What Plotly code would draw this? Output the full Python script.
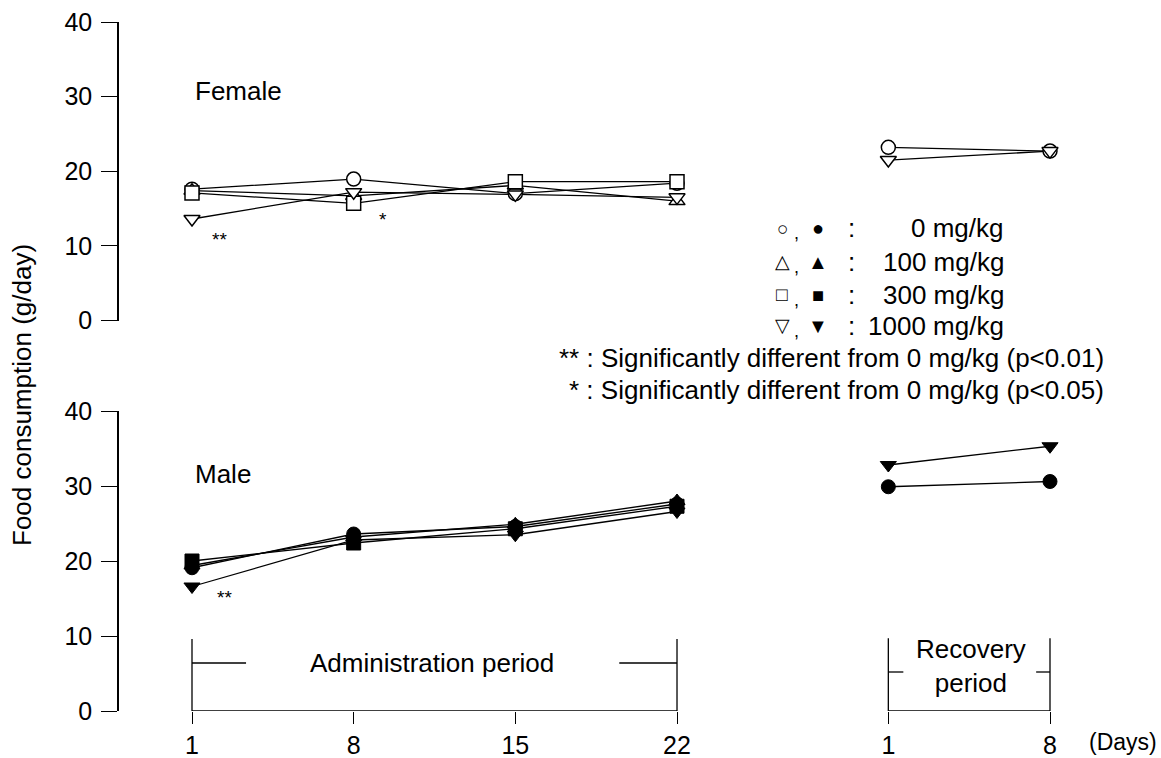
import plotly.graph_objects as go

# ---------------- data ----------------
days_admin = [1, 8, 15, 22]
days_recovery = [1, 8]
dose_labels = ["0 mg/kg", "100 mg/kg", "300 mg/kg", "1000 mg/kg"]

female_0 = [17.6, 18.95, 17.0, 18.4]
female_100 = [17.4, 16.7, 18.1, 16.0]
female_300 = [17.1, 15.7, 18.6, 18.6]
female_1000 = [13.6, 17.2, 16.9, 16.5]
female_rec_0 = [23.2, 22.7]
female_rec_1000 = [21.5, 22.7]

male_0 = [19.1, 23.6, 24.6, 27.6]
male_100 = [19.4, 23.2, 24.9, 28.0]
male_300 = [20.0, 22.4, 24.3, 27.3]
male_1000 = [16.6, 22.8, 23.5, 26.6]
male_rec_0 = [29.9, 30.6]
male_rec_1000 = [32.8, 35.3]

y_ticks = [0, 10, 20, 30, 40]
x_tick_text = ["1", "8", "15", "22", "1", "8"]

# ---------------- layout helpers ----------------
REC_OFFSET = 30.15          # recovery days are placed after a gap on the shared day axis
rec_x = [d + REC_OFFSET for d in days_recovery]

FONT = "Liberation Sans, Arial, Helvetica, sans-serif"
FS = 26
FS_TICK = 25
W, H = 1161, 758
ML, MR, MT, MB = 119, 61, 22, 47
X0, X1 = -2.161, 40.315

open_sym = ["circle", "triangle-up", "square", "triangle-down"]

fig = go.Figure()

female_series = [female_0, female_100, female_300, female_1000]
male_series = [male_0, male_100, male_300, male_1000]

line_style = dict(color="black", width=1.3)

# lines first
for ys in female_series:
    fig.add_trace(go.Scatter(x=days_admin, y=ys, mode="lines", line=line_style,
                             xaxis="x", yaxis="y2", hoverinfo="skip"))
for ys in [female_rec_0, female_rec_1000]:
    fig.add_trace(go.Scatter(x=rec_x, y=ys, mode="lines", line=line_style,
                             xaxis="x", yaxis="y2", hoverinfo="skip"))
for ys in male_series:
    fig.add_trace(go.Scatter(x=days_admin, y=ys, mode="lines", line=line_style,
                             xaxis="x", yaxis="y", hoverinfo="skip"))
for ys in [male_rec_0, male_rec_1000]:
    fig.add_trace(go.Scatter(x=rec_x, y=ys, mode="lines", line=line_style,
                             xaxis="x", yaxis="y", hoverinfo="skip"))

# markers on top
for i, ys in enumerate(female_series):
    fig.add_trace(go.Scatter(x=days_admin, y=ys, mode="markers", name=dose_labels[i],
                             marker=dict(symbol=open_sym[i], size=14, color="white",
                                         line=dict(color="black", width=1.5)),
                             xaxis="x", yaxis="y2"))
for i, ys in zip([0, 3], [female_rec_0, female_rec_1000]):
    fig.add_trace(go.Scatter(x=rec_x, y=ys, mode="markers", name=dose_labels[i],
                             marker=dict(symbol=open_sym[i], size=14, color="white",
                                         line=dict(color="black", width=1.5)),
                             xaxis="x", yaxis="y2"))
for i, ys in enumerate(male_series):
    fig.add_trace(go.Scatter(x=days_admin, y=ys, mode="markers", name=dose_labels[i],
                             marker=dict(symbol=open_sym[i], size=14, color="black",
                                         line=dict(color="black", width=1)),
                             xaxis="x", yaxis="y"))
for i, ys in zip([0, 3], [male_rec_0, male_rec_1000]):
    fig.add_trace(go.Scatter(x=rec_x, y=ys, mode="markers", name=dose_labels[i],
                             marker=dict(symbol=open_sym[i], size=14, color="black",
                                         line=dict(color="black", width=1)),
                             xaxis="x", yaxis="y"))

plot_h = H - MT - MB
def py(px):
    """pixel row -> paper y"""
    return (H - MB - px) / plot_h
def pxx(px):
    """pixel column -> paper x"""
    return (px - ML) / (W - ML - MR)

yaxis_common = dict(range=[0, 40], tickvals=y_ticks, ticks="outside", ticklen=16,
                    tickwidth=1.3, tickcolor="black", showline=True, linecolor="black",
                    linewidth=1.6, showgrid=False, zeroline=False, automargin=False,
                    tickfont=dict(family=FONT, size=FS_TICK, color="black"),
                    ticklabelstandoff=4, fixedrange=True)

fig.update_layout(
    template="none",
    width=W, height=H, autosize=False,
    margin=dict(l=ML, r=MR, t=MT, b=MB, pad=0),
    paper_bgcolor="white", plot_bgcolor="white",
    showlegend=False,
    font=dict(family=FONT, size=FS, color="black"),
    xaxis=dict(range=[X0, X1], tickvals=days_admin + rec_x, ticktext=x_tick_text,
               ticks="outside", ticklen=12, tickwidth=1.3, tickcolor="black",
               showline=False, showgrid=False, zeroline=False, anchor="y",
               automargin=False,
               tickfont=dict(family=FONT, size=FS_TICK, color="black"), fixedrange=True),
    yaxis=dict(domain=[0, py(411)], anchor="x", **yaxis_common),
    yaxis2=dict(domain=[py(320.5), 1], anchor="x", **yaxis_common),
)

shapes = []
blk = dict(color="black", width=1.3)
# x-axis segments
shapes.append(dict(type="line", xref="x", yref="y", x0=days_admin[0], x1=days_admin[-1], y0=0, y1=0, line=blk))
shapes.append(dict(type="line", xref="x", yref="y", x0=rec_x[0], x1=rec_x[-1], y0=0, y1=0, line=blk))
# administration bracket
shapes.append(dict(type="line", xref="x", yref="y", x0=1, x1=1, y0=0, y1=9.6, line=blk))
shapes.append(dict(type="line", xref="x", yref="y", x0=22, x1=22, y0=0, y1=9.6, line=blk))
shapes.append(dict(type="line", xref="x", yref="y", x0=1, x1=3.34, y0=6.4, y1=6.4, line=blk))
shapes.append(dict(type="line", xref="x", yref="y", x0=19.5, x1=22, y0=6.4, y1=6.4, line=blk))
# recovery bracket
shapes.append(dict(type="line", xref="x", yref="y", x0=rec_x[0], x1=rec_x[0], y0=0, y1=9.7, line=blk))
shapes.append(dict(type="line", xref="x", yref="y", x0=rec_x[1], x1=rec_x[1], y0=0, y1=9.7, line=blk))
shapes.append(dict(type="line", xref="x", yref="y", x0=rec_x[0], x1=rec_x[0] + 0.65, y0=5.2, y1=5.2, line=blk))
shapes.append(dict(type="line", xref="x", yref="y", x0=rec_x[1] - 0.6, x1=rec_x[1], y0=5.2, y1=5.2, line=blk))
fig.update_layout(shapes=shapes)

ann = []
def text(x, y, t, xref="x", yref="y", xanchor="center", size=FS, **kw):
    ann.append(dict(x=x, y=y, text=t, xref=xref, yref=yref, xanchor=xanchor,
                    yanchor="middle", showarrow=False,
                    font=dict(family=FONT, size=size, color="black"), **kw))

text(1.05, 30.7, "Female", yref="y2", xanchor="left")
text(1.05, 31.6, "Male", xanchor="left")
text(11.4, 6.4, "Administration period")
text(34.72, 6.0, "Recovery<br>period")
text(pxx(1159), py(742), "(Days)", xref="paper", yref="paper", xanchor="right", size=23)
text(pxx(22), py(395), "Food consumption (g/day)", xref="paper", yref="paper", textangle=-90)

# significance marks
text(2.2, 10.8, "**", yref="y2", size=19)
text(9.25, 13.6, "*", yref="y2", size=19)
text(2.4, 15.2, "**", size=19)

# legend block
open_glyph = ["○", "△", "□", "▽"]
fill_glyph = ["●", "▲", "■", "▼"]
rows = [228, 261.5, 294.5, 325.5]
for i in range(4):
    r = rows[i]
    text(pxx(782), py(r), open_glyph[i], xref="paper", yref="paper", size=19)
    text(pxx(796), py(r + 5), ",", xref="paper", yref="paper", size=18)
    text(pxx(818), py(r), fill_glyph[i], xref="paper", yref="paper", size=20)
    text(pxx(851), py(r), ":", xref="paper", yref="paper")
    text(pxx(1006), py(r), dose_labels[i], xref="paper", yref="paper", xanchor="right")
text(pxx(1106), py(358), "** : Significantly different from 0 mg/kg (p<0.01)",
     xref="paper", yref="paper", xanchor="right")
text(pxx(1106), py(390), "* : Significantly different from 0 mg/kg (p<0.05)",
     xref="paper", yref="paper", xanchor="right")

fig.update_layout(annotations=ann)

fig.write_html("out.html", config={"displayModeBar": False},
               post_script="document.body.style.margin='0';document.body.style.overflow='hidden';")
